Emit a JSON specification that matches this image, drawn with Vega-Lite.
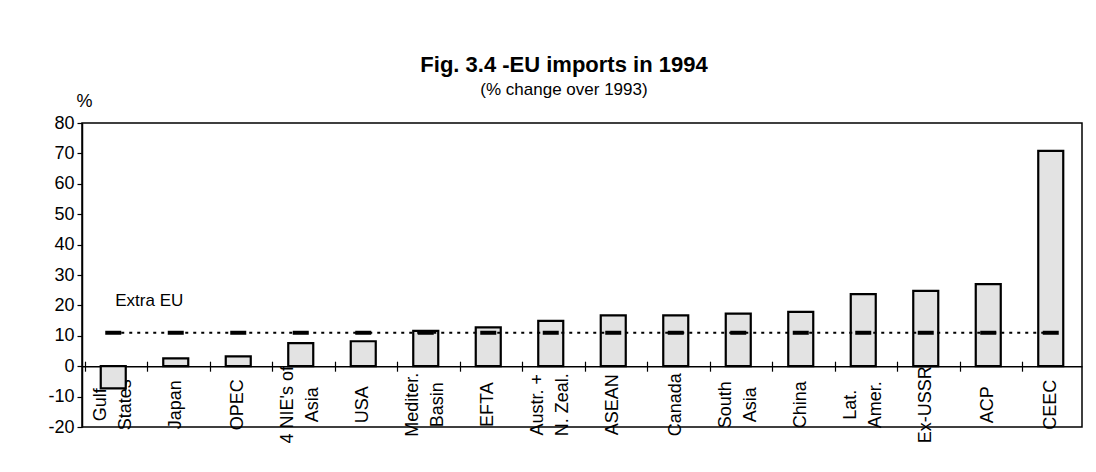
{
  "$schema": "https://vega.github.io/schema/vega-lite/v6.json",
  "width": 1000,
  "height": 304,
  "autosize": {"type": "none"},
  "padding": {"left": 82, "top": 123, "right": 14, "bottom": 45},
  "background": "white",
  "title": {
    "text": "Fig. 3.4 -EU imports in 1994",
    "subtitle": "(% change over 1993)",
    "anchor": "middle",
    "dx": -18,
    "offset": -7,
    "font": "Liberation Sans",
    "fontSize": 22,
    "fontWeight": "bold",
    "color": "black",
    "subtitleFont": "Liberation Sans",
    "subtitleFontSize": 17,
    "subtitleColor": "black",
    "subtitlePadding": 5
  },
  "data": {
    "values": [
      {"name": "Gulf|States", "change": -7.3, "extraEU": 11},
      {"name": "Japan", "change": 2.6, "extraEU": 11},
      {"name": "OPEC", "change": 3.2, "extraEU": 11},
      {"name": "4 NIE's of|Asia", "change": 7.6, "extraEU": 11},
      {"name": "USA", "change": 8.2, "extraEU": 11},
      {"name": "Mediter.|Basin", "change": 11.6, "extraEU": 11},
      {"name": "EFTA", "change": 12.8, "extraEU": 11},
      {"name": "Austr. +|N. Zeal.", "change": 14.9, "extraEU": 11},
      {"name": "ASEAN", "change": 16.7, "extraEU": 11},
      {"name": "Canada", "change": 16.7, "extraEU": 11},
      {"name": "South|Asia", "change": 17.3, "extraEU": 11},
      {"name": "China", "change": 17.9, "extraEU": 11},
      {"name": "Lat.|Amer.", "change": 23.7, "extraEU": 11},
      {"name": "Ex-USSR", "change": 24.8, "extraEU": 11},
      {"name": "ACP", "change": 27.0, "extraEU": 11},
      {"name": "CEEC", "change": 70.8, "extraEU": 11}
    ]
  },
  "layer": [
    {
      "mark": {"type": "bar", "size": 25, "fill": "#e3e3e3", "stroke": "black", "strokeWidth": 2.2},
      "encoding": {
        "x": {
          "field": "name",
          "type": "nominal",
          "sort": null,
          "axis": {
            "orient": "bottom",
            "offset": -60.8,
            "title": null,
            "bandPosition": 0,
            "labelExpr": "split(datum.value, '|')",
            "labelAngle": -90,
            "labelAlign": "center",
            "labelBaseline": "middle",
            "labelOffset": {"condition": {"test": "indexof(datum.value, '|') >= 0", "value": -12.5}, "value": 0},
            "labelPadding": 33,
            "labelFont": "Liberation Sans",
            "labelFontSize": 18,
            "labelLineHeight": 25,
            "labelColor": "black",
            "tickSize": 5,
            "tickColor": "black",
            "domainColor": "black",
            "labelOverlap": false,
            "labelBound": false
          }
        },
        "y": {
          "field": "change",
          "type": "quantitative",
          "scale": {"domain": [-20, 80], "nice": false},
          "axis": {
            "values": [-20, -10, 0, 10, 20, 30, 40, 50, 60, 70, 80],
            "labelExpr": "datum.value < 0 ? '-' + abs(datum.value) : datum.label",
            "labelOverlap": false,
            "title": "%",
            "titleAngle": 0,
            "titleAlign": "center",
            "titleBaseline": "middle",
            "titleX": 2,
            "titleY": -22,
            "titleFont": "Liberation Sans",
            "titleFontSize": 18,
            "titleFontWeight": "normal",
            "titleColor": "black",
            "labelFont": "Liberation Sans",
            "labelFontSize": 18,
            "labelColor": "black",
            "labelPadding": 3,
            "tickSize": 5,
            "tickColor": "black",
            "domainColor": "black",
            "grid": false
          }
        }
      }
    },
    {
      "mark": {"type": "line", "color": "black", "strokeWidth": 2, "strokeDash": [3, 5]},
      "encoding": {
        "x": {
          "field": "name",
          "type": "nominal",
          "sort": null,
          "axis": {
            "orient": "bottom",
            "offset": -60.8,
            "title": null,
            "bandPosition": 0,
            "labels": false,
            "domain": false,
            "tickSize": -5,
            "tickColor": "black"
          }
        },
        "y": {"field": "extraEU", "type": "quantitative", "axis": null}
      }
    },
    {
      "mark": {"type": "tick", "color": "black", "opacity": 1, "thickness": 4, "size": 16, "orient": "horizontal"},
      "encoding": {
        "x": {"field": "name", "type": "nominal", "sort": null, "axis": null},
        "y": {"field": "extraEU", "type": "quantitative", "axis": null}
      }
    },
    {
      "data": {"values": [{"label": "Extra EU", "name": "Gulf|States", "level": 21.5}]},
      "mark": {"type": "text", "align": "left", "baseline": "middle", "dx": 2, "font": "Liberation Sans", "fontSize": 17, "color": "black"},
      "encoding": {
        "x": {"field": "name", "type": "nominal", "sort": null, "axis": null},
        "y": {"field": "level", "type": "quantitative", "axis": null},
        "text": {"field": "label"}
      }
    }
  ],
  "resolve": {"axis": {"x": "independent", "y": "independent"}},
  "config": {
    "view": {"stroke": "black", "strokeWidth": 1.5},
    "axis": {"domainWidth": 1.5, "tickWidth": 1.2}
  }
}
